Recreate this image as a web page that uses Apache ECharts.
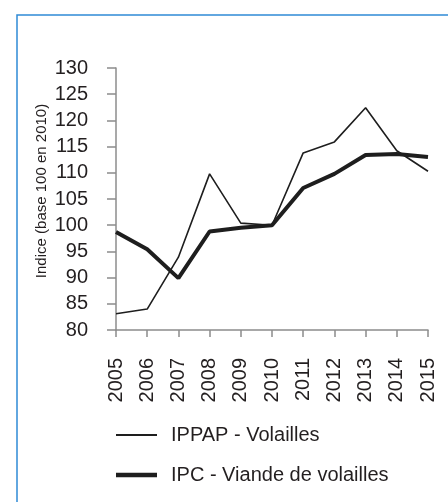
<!DOCTYPE html>
<html>
<head>
<meta charset="utf-8">
<script src="https://cdn.jsdelivr.net/npm/echarts@6/dist/echarts.min.js"></script>
<style>
  html, body { margin: 0; padding: 0; background: #fff; }
  #chart { width: 448px; height: 502px; }
</style>
</head>
<body>
<div id="chart"></div>
<script>
// données
const years = ['2005', '2006', '2007', '2008', '2009', '2010', '2011', '2012', '2013', '2014', '2015']
const ippap = [83.1, 84.0, 93.9, 109.8, 100.4, 100.0, 113.8, 115.9, 122.4, 114.2, 110.3]
const ipc = [98.7, 95.4, 89.9, 98.8, 99.5, 100.0, 107.1, 109.8, 113.4, 113.6, 113.0]
const seriesNames = ['IPPAP - Volailles', 'IPC - Viande de volailles']

const font = 'Liberation Sans, Arial, Helvetica, sans-serif'
const txt = '#231f20'
const axisGrey = '#8c8c8c'

const myChart = echarts.init(document.getElementById('chart'))

const option = {
    animation: false,
    backgroundColor: '#fff',
    textStyle: { fontFamily: font, color: txt },
    grid: { left: 116, right: 20, top: 68, bottom: 172, outerBoundsMode: 'none' },
    legend: {
        orient: 'vertical',
        left: 116,
        top: 425,
        padding: 0,
        itemWidth: 41,
        itemHeight: 14,
        itemGap: 20,
        symbolKeepAspect: true,
        textStyle: { fontSize: 20, color: txt, fontFamily: font, padding: [0, 0, 0, 9] },
        data: [
            // traits de légende : fin / épais
            { name: seriesNames[0], icon: 'path://M0,0H41V2H0Z' },
            { name: seriesNames[1], icon: 'path://M0,0H41V4.5H0Z' }
        ]
    },
    xAxis: {
        type: 'category',
        data: years,
        boundaryGap: false,
        axisLine: { lineStyle: { color: axisGrey, width: 1.5 } },
        axisTick: { length: 7, lineStyle: { color: axisGrey, width: 1.5 } },
        axisLabel: { rotate: 90, fontSize: 20, margin: 28, color: txt, fontFamily: font, interval: 0 },
        splitLine: { show: false }
    },
    yAxis: {
        type: 'value',
        min: 80,
        max: 130,
        interval: 5,
        axisLine: { show: true, lineStyle: { color: axisGrey, width: 1.5 } },
        axisTick: { show: true, length: 9, lineStyle: { color: axisGrey, width: 1.5 } },
        axisLabel: { fontSize: 20, margin: 28, color: txt, fontFamily: font },
        splitLine: { show: false }
    },
    graphic: [
        {
            // cadre bleu
            type: 'rect',
            shape: { x: 17, y: 15, width: 600, height: 700 },
            style: { fill: 'none', stroke: '#2f8bd6', lineWidth: 1.5 },
            silent: true
        },
        {
            type: 'text',
            x: 42,
            y: 191,
            rotation: Math.PI / 2,
            style: {
                text: 'Indice (base 100 en 2010)',
                fontSize: 15,
                fontFamily: font,
                fill: txt,
                align: 'center',
                verticalAlign: 'middle'
            }
        }
    ],
    series: [
        {
            name: seriesNames[0],
            type: 'line',
            data: ippap,
            symbol: 'none',
            lineStyle: { color: '#1e1e1e', width: 1.6 },
            itemStyle: { color: '#1e1e1e' }
        },
        {
            name: seriesNames[1],
            type: 'line',
            data: ipc,
            symbol: 'none',
            lineStyle: { color: '#1e1e1e', width: 4 },
            itemStyle: { color: '#1e1e1e' }
        }
    ]
}

myChart.setOption(option)
</script>
</body>
</html>
